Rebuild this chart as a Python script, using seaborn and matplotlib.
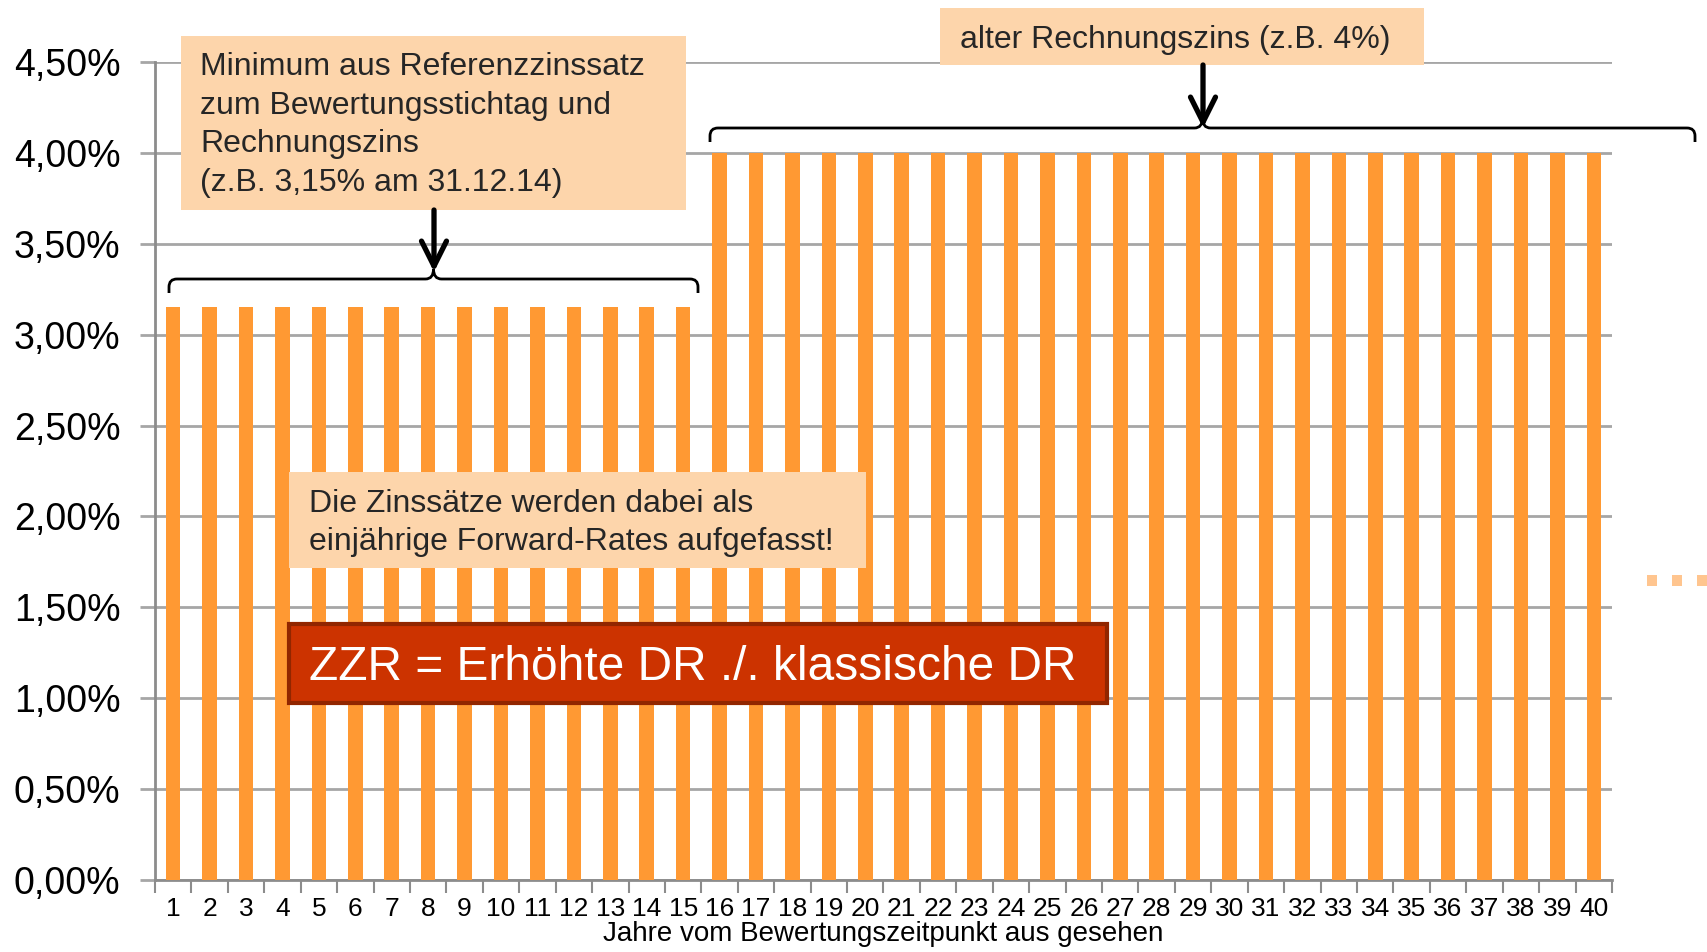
import matplotlib
matplotlib.use("Agg")
import matplotlib.pyplot as plt
from matplotlib.patches import FancyArrowPatch, PathPatch, Rectangle
from matplotlib.path import Path
from matplotlib.ticker import FuncFormatter, FixedLocator
import numpy as np
import pandas as pd
import seaborn as sns

# ---- data ----
years = list(range(1, 41))
rates = [3.15] * 15 + [4.00] * 25
ytick_values = [0.0, 0.5, 1.0, 1.5, 2.0, 2.5, 3.0, 3.5, 4.0, 4.5]
x_label = "Jahre vom Bewertungszeitpunkt aus gesehen"
note_min = "Minimum aus Referenzzinssatz\nzum Bewertungsstichtag und\nRechnungszins\n(z.B. 3,15% am 31.12.14)"
note_alt = "alter Rechnungszins (z.B. 4%)"
note_fwd = "Die Zinssätze werden dabei als\neinjährige Forward-Rates aufgefasst!"
note_zzr = "ZZR = Erhöhte DR ./. klassische DR"

df = pd.DataFrame({"Jahr": [str(y) for y in years], "Zins": rates})

sns.set_theme(style="white")
plt.rcParams["font.family"] = ["Liberation Sans", "DejaVu Sans"]

W, H = 1708, 952
fig = plt.figure(figsize=(W / 100, H / 100), dpi=100)
fig.patch.set_facecolor("white")

def fx(x):
    return x / W

def fy(y):
    return 1 - y / H

left, right, top, bottom = 155, 1612, 62, 880
ax = fig.add_axes([fx(left), fy(bottom), fx(right) - fx(left), fy(top) - fy(bottom)])

sns.barplot(data=df, x="Jahr", y="Zins", color="#FF9933", saturation=1,
            width=0.4, ax=ax, zorder=3, edgecolor="none")

ax.set_ylim(0, 4.5)
ax.set_xlim(-0.5, len(years) - 0.5)
ax.yaxis.set_major_locator(FixedLocator(ytick_values))
ax.yaxis.set_major_formatter(FuncFormatter(lambda v, p: f"{v:.2f}".replace(".", ",") + "%"))
ax.grid(axis="y", color="#A6A6A6", linewidth=2, zorder=0)
ax.set_axisbelow(True)

for s in ["top", "right"]:
    ax.spines[s].set_visible(False)
for s in ["left", "bottom"]:
    ax.spines[s].set_color("#8C8C8C")
    ax.spines[s].set_linewidth(2)

ax.set_xticks(range(len(years)))
ax.set_xticklabels([str(y) for y in years])
ax.xaxis.set_minor_locator(FixedLocator(np.arange(-0.5, len(years), 1.0)))
ax.tick_params(axis="x", which="major", length=0, pad=12, labelsize=19, colors="black")
ax.tick_params(axis="x", which="minor", length=9, width=1.5, color="#8C8C8C", direction="out", bottom=True)
ax.tick_params(axis="y", which="major", length=11, width=2, color="#A6A6A6", direction="out",
               left=True, pad=14, labelsize=27, labelcolor="black")

ax.set_xlabel(x_label, fontsize=20, labelpad=0.5, color="black")
ax.set_ylabel("")

# ---- annotation boxes ----
def box(x0, y0, x1, y1, fc, ec="none", lw=0):
    r = Rectangle((fx(x0), fy(y1)), fx(x1) - fx(x0), fy(y0) - fy(y1),
                  transform=fig.transFigure, facecolor=fc, edgecolor=ec, linewidth=lw, zorder=5)
    fig.add_artist(r)

peach = "#FDD5AB"
box(181, 36, 686, 210, peach)
fig.text(fx(200), fy(52), note_min, ha="left", va="top", fontsize=23,
         linespacing=1.38, zorder=6)

box(940, 8, 1424, 65, peach)
fig.text(fx(960), fy(40), note_alt, ha="left", va="center", fontsize=23, zorder=6)

box(289, 472, 866, 568, peach)
fig.text(fx(309), fy(489), note_fwd, ha="left", va="top", fontsize=23,
         linespacing=1.35, zorder=6)

box(289, 624, 1107, 703, "#CC3300", ec="#912600", lw=3)
fig.text(fx(309), fy(667), note_zzr, ha="left", va="center", fontsize=34.5,
         color="white", zorder=6)

# ---- arrows ----
def arrow(x, y0, y1):
    a = FancyArrowPatch((fx(x), fy(y0)), (fx(x), fy(y1)), transform=fig.transFigure,
                        arrowstyle="->,head_length=0.9,head_width=0.45", mutation_scale=20,
                        linewidth=3.8, color="black", zorder=7, shrinkA=0, shrinkB=0)
    fig.add_artist(a)

arrow(434, 210, 272)
arrow(1203, 65, 128)

# ---- braces ----
def brace(x0, x1, y, h=14, r=8, c=10):
    xm = (x0 + x1) / 2
    pts = [(x0, y + h), (x0, y + r), (x0, y), (x0 + r, y),
           (xm - r, y), (xm, y), (xm, y - c),
           (xm, y), (xm + r, y),
           (x1 - r, y), (x1, y), (x1, y + r), (x1, y + h)]
    codes = [Path.MOVETO, Path.LINETO, Path.CURVE3, Path.CURVE3,
             Path.LINETO, Path.CURVE3, Path.CURVE3,
             Path.CURVE3, Path.CURVE3,
             Path.LINETO, Path.CURVE3, Path.CURVE3, Path.LINETO]
    p = Path([(fx(a), fy(b)) for a, b in pts], codes)
    fig.add_artist(PathPatch(p, transform=fig.transFigure, facecolor="none",
                             edgecolor="black", linewidth=2, zorder=7))

brace(169, 698, 279)
brace(710, 1695, 128)

# ---- continuation dots ----
for x in (1647, 1672, 1697):
    box(x, 575, x + 10, 586, "#FFC58F")

fig.savefig("out.png", dpi=100)
